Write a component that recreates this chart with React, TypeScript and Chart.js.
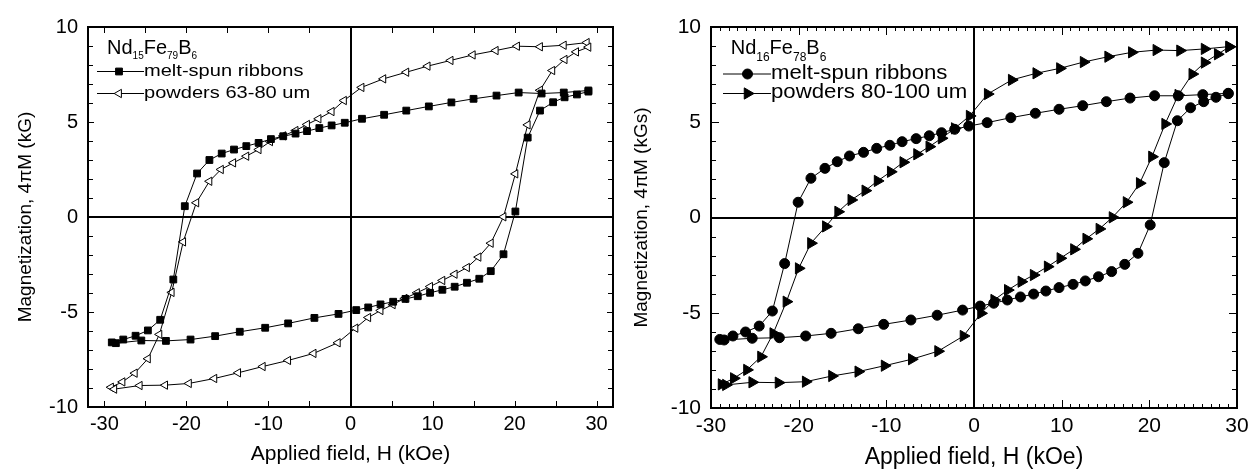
import React, { useEffect, useRef } from 'react';
import { Chart, registerables } from 'chart.js';

Chart.register(...registerables);

const FONT = '"Liberation Sans", Arial, Helvetica, sans-serif';

// ---------- Left panel: Nd15Fe79B6 ----------
const RIB15_H = [29.0, 26.0, 23.3, 20.5, 17.8, 15.0, 12.3, 9.55, 6.8, 4.1, 1.4, -0.7, -2.3, -3.8, -5.3, -6.7, -8.2, -9.7, -11.2, -12.7, -14.2, -15.7, -17.2, -18.7, -20.2, -21.6, -23.2, -24.7, -26.2, -27.7, -29.1,
  -28.6, -25.5, -22.5, -19.5, -16.5, -13.5, -10.4, -7.6, -4.4, -1.46, 0.7, 2.16, 3.66, 5.2, 6.7, 8.2, 9.7, 11.2, 12.7, 14.2, 15.7, 17.1, 18.65, 20.1, 21.6, 23.1, 24.7, 26.1, 27.6, 29.0];
const RIB15_M = [6.66, 6.55, 6.5, 6.55, 6.39, 6.22, 6.03, 5.82, 5.6, 5.38, 5.17, 4.96, 4.82, 4.68, 4.52, 4.39, 4.25, 4.1, 3.9, 3.73, 3.55, 3.34, 3.0, 2.29, 0.57, -3.29, -5.41, -5.97, -6.25, -6.45, -6.6,
  -6.64, -6.5, -6.52, -6.45, -6.27, -6.04, -5.83, -5.6, -5.31, -5.1, -4.9, -4.76, -4.6, -4.46, -4.31, -4.17, -3.99, -3.83, -3.67, -3.46, -3.25, -2.85, -1.96, 0.29, 4.18, 5.6, 6.04, 6.3, 6.45, 6.6];

const POW15_H = [28.8, 26.0, 23.1, 20.3, 17.7, 14.9, 12.2, 9.4, 6.8, 4.0, 1.34, -0.8, -2.3, -3.9, -5.3, -6.7, -8.2, -9.8, -11.2, -12.7, -14.3, -15.8, -17.2, -18.8, -20.4, -21.8, -23.3, -24.7, -26.3, -27.8, -29.2,
  -28.8, -25.7, -22.6, -19.7, -16.6, -13.7, -10.7, -7.6, -4.5, -1.55, 0.6, 2.16, 3.66, 5.15, 6.6, 8.1, 9.7, 11.2, 12.7, 14.2, 15.6, 17.1, 18.65, 20.1, 21.6, 23.1, 24.6, 26.1, 27.5, 29.0];
const POW15_M = [9.18, 9.04, 8.96, 8.99, 8.76, 8.53, 8.24, 7.94, 7.62, 7.27, 6.82, 6.13, 5.55, 5.17, 4.87, 4.55, 4.27, 3.97, 3.55, 3.2, 2.85, 2.5, 1.88, 0.75, -1.31, -3.97, -6.18, -7.46, -8.22, -8.68, -8.96,
  -9.06, -8.87, -8.85, -8.76, -8.5, -8.2, -7.87, -7.55, -7.18, -6.62, -5.85, -5.29, -4.92, -4.61, -4.29, -3.99, -3.66, -3.34, -3.01, -2.66, -2.11, -1.38, 0.01, 2.27, 4.85, 6.67, 7.71, 8.29, 8.69, 8.94];

// ---------- Right panel: Nd16Fe78B6 ----------
const RIB16_H = [29.0, 26.1, 23.3, 20.6, 17.8, 15.1, 12.4, 9.7, 7.0, 4.2, 1.5, -0.6, -2.2, -3.7, -5.1, -6.6, -8.2, -9.6, -11.1, -12.6, -14.2, -15.6, -17.0, -18.6, -20.06, -21.6, -23.0, -24.5, -26.06, -27.5, -29.0,
  -28.5, -25.3, -22.2, -19.2, -16.3, -13.2, -10.3, -7.2, -4.2, -1.3, 0.7, 2.25, 3.8, 5.3, 6.8, 8.2, 9.7, 11.3, 12.7, 14.2, 15.7, 17.2, 18.7, 20.1, 21.7, 23.2, 24.7, 26.2, 27.6, 29.0];
const RIB16_M = [6.52, 6.45, 6.39, 6.39, 6.27, 6.08, 5.87, 5.68, 5.47, 5.24, 4.98, 4.8, 4.63, 4.45, 4.29, 4.14, 3.98, 3.79, 3.63, 3.42, 3.23, 2.93, 2.58, 2.06, 0.8, -2.42, -4.91, -5.7, -6.01, -6.22, -6.4,
  -6.43, -6.34, -6.31, -6.22, -6.08, -5.84, -5.61, -5.38, -5.13, -4.86, -4.65, -4.5, -4.33, -4.17, -4.02, -3.86, -3.68, -3.51, -3.33, -3.11, -2.84, -2.46, -1.88, -0.39, 2.88, 5.08, 5.76, 6.08, 6.31, 6.5];

const POW16_H = [29.1, 26.3, 23.5, 20.8, 18.0, 15.3, 12.5, 9.8, 7.1, 4.3, 1.56, -0.5, -2.2, -3.7, -5.1, -6.5, -8.07, -9.5, -11.0, -12.4, -14.0, -15.5, -16.9, -18.6, -20.0, -21.4, -22.9, -24.3, -25.9, -27.4, -28.8,
  -28.3, -25.3, -22.3, -19.2, -16.2, -13.2, -10.2, -7.1, -4.1, -1.2, 0.8, 2.3, 3.85, 5.4, 6.8, 8.4, 9.85, 11.4, 12.8, 14.3, 15.8, 17.4, 18.9, 20.3, 21.8, 23.3, 24.9, 26.3, 27.8, 29.1];
const POW16_M = [8.97, 8.85, 8.76, 8.79, 8.67, 8.44, 8.16, 7.83, 7.57, 7.22, 6.48, 5.33, 4.68, 4.16, 3.72, 3.32, 2.9, 2.4, 1.92, 1.41, 0.92, 0.3, -0.47, -1.35, -2.67, -4.42, -6.08, -7.31, -8.0, -8.44, -8.76,
  -8.79, -8.65, -8.67, -8.62, -8.32, -8.09, -7.78, -7.44, -7.02, -6.22, -5.03, -4.33, -3.81, -3.37, -3.02, -2.58, -2.14, -1.67, -1.12, -0.6, 0.01, 0.8, 1.8, 3.19, 4.91, 6.43, 7.53, 8.13, 8.57, 8.95];

const X_TICKS = [-30, -20, -10, 0, 10, 20, 30];
const Y_TICKS = [-10, -5, 0, 5, 10];

const zip = (h: number[], m: number[]) => h.map((x, i) => ({ x, y: m[i] }));

type Marker = { style: string; radius: number; rotation: number; fill: string };

function drawMarker(ctx: CanvasRenderingContext2D, mk: Marker, x: number, y: number) {
  ctx.save();
  ctx.fillStyle = mk.fill;
  ctx.strokeStyle = '#000';
  ctx.lineWidth = 1;
  ctx.beginPath();
  const r = mk.radius;
  if (mk.style === 'rect') {
    const s = r * Math.SQRT1_2;
    ctx.rect(x - s, y - s, 2 * s, 2 * s);
  } else if (mk.style === 'circle') {
    ctx.arc(x, y, r, 0, Math.PI * 2);
  } else {
    let rad = (mk.rotation * Math.PI) / 180;
    ctx.moveTo(x + Math.sin(rad) * r, y - Math.cos(rad) * r);
    rad += (2 * Math.PI) / 3;
    ctx.lineTo(x + Math.sin(rad) * r, y - Math.cos(rad) * r);
    rad += (2 * Math.PI) / 3;
    ctx.lineTo(x + Math.sin(rad) * r, y - Math.cos(rad) * r);
    ctx.closePath();
  }
  ctx.fill();
  ctx.stroke();
  ctx.restore();
}

const framePlugin = {
  id: 'frame',
  beforeDatasetsDraw(chart: any, _args: any, o: any) {
    const { ctx, chartArea: a, scales } = chart;
    const xs = scales.x;
    const ys = scales.y;
    ctx.save();
    ctx.strokeStyle = '#000';
    // zero lines
    ctx.lineWidth = 2;
    const x0 = Math.round(xs.getPixelForValue(0));
    const y0 = Math.round(ys.getPixelForValue(0));
    ctx.beginPath();
    ctx.moveTo(x0, a.top);
    ctx.lineTo(x0, a.bottom);
    ctx.moveTo(a.left, y0);
    ctx.lineTo(a.right, y0);
    ctx.stroke();
    // inward ticks on all four sides
    ctx.lineWidth = 1;
    ctx.beginPath();
    for (let i = Math.ceil(-30 / o.xStep); i * o.xStep <= 30 + 1e-9; i++) {
      const v = i * o.xStep;
      const len = Math.abs(v % 10) < 1e-9 ? o.xMajor : o.xMinor;
      const px = Math.round(xs.getPixelForValue(v)) + 0.5;
      ctx.moveTo(px, a.bottom);
      ctx.lineTo(px, a.bottom - len);
      ctx.moveTo(px, a.top);
      ctx.lineTo(px, a.top + len);
    }
    for (let i = Math.ceil(-10 / o.yStep); i * o.yStep <= 10 + 1e-9; i++) {
      const v = i * o.yStep;
      const len = Math.abs(v % 5) < 1e-9 ? o.yMajor : o.yMinor;
      const py = Math.round(ys.getPixelForValue(v)) + 0.5;
      ctx.moveTo(a.left, py);
      ctx.lineTo(a.left + len, py);
      ctx.moveTo(a.right, py);
      ctx.lineTo(a.right - len, py);
    }
    ctx.stroke();
    // frame
    ctx.lineWidth = 2;
    ctx.strokeRect(a.left, a.top, a.right - a.left, a.bottom - a.top);
    ctx.restore();
  },
  afterDraw(chart: any, _args: any, o: any) {
    const { ctx } = chart;
    const L = o.legend;
    ctx.save();
    ctx.fillStyle = '#000';
    ctx.textBaseline = 'alphabetic';
    ctx.textAlign = 'left';
    // title with subscripts
    let x = L.titleX;
    for (const part of L.title) {
      const sub = part.sub;
      ctx.font = `${sub ? L.subSize : L.titleSize}px ${FONT}`;
      ctx.fillText(part.t, x, sub ? L.subBase : L.titleBase);
      x += ctx.measureText(part.t).width;
    }
    // rows
    chart.data.datasets.forEach((ds: any, i: number) => {
      const row = L.rows[i];
      ctx.strokeStyle = '#000';
      ctx.lineWidth = 1;
      ctx.beginPath();
      ctx.moveTo(L.lineX1, row.y + 0.5);
      ctx.lineTo(L.lineX2, row.y + 0.5);
      ctx.stroke();
      drawMarker(ctx, {
        style: ds.pointStyle, radius: ds.pointRadius, rotation: ds.pointRotation || 0, fill: ds.pointBackgroundColor,
      }, L.markX, row.y + 0.5);
      ctx.save();
      ctx.fillStyle = '#000';
      ctx.font = `${L.textSize}px ${FONT}`;
      ctx.translate(L.textX, row.base);
      ctx.scale(L.stretch, 1);
      ctx.fillText(ds.label, 0, 0);
      ctx.restore();
    });
    ctx.restore();
  },
};

type PanelCfg = {
  left: number; w: number; h: number;
  area: { left: number; right: number; top: number; bottom: number };
  xMin: number; xMax: number;
  tickSize: number; xTickPad: number; yTickPad: number;
  xTitleSize: number; xTitlePad: number;
  yTitle: string; yTitleSize: number; yTitlePad: number;
  ticks: any; legend: any; datasets: any[];
};

function buildConfig(c: PanelCfg): any {
  return {
    type: 'scatter',
    data: { datasets: c.datasets },
    plugins: [framePlugin],
    options: {
      responsive: false,
      animation: false,
      events: [],
      devicePixelRatio: 1,
      layout: { padding: { left: 0, top: c.area.top, right: c.w - c.area.right, bottom: 0 } },
      plugins: {
        legend: { display: false },
        tooltip: { enabled: false },
        frame: { ...c.ticks, legend: c.legend },
      },
      scales: {
        x: {
          type: 'linear', min: c.xMin, max: c.xMax,
          grid: { display: false, drawTicks: false },
          border: { display: false },
          afterBuildTicks: (s: any) => { s.ticks = X_TICKS.map((v) => ({ value: v })); },
          afterFit: (s: any) => { s.height = c.h - c.area.bottom; s.paddingLeft = 0; s.paddingRight = 0; },
          ticks: {
            color: '#000', padding: c.xTickPad, maxRotation: 0, autoSkip: false,
            font: { family: FONT, size: c.tickSize },
            callback: (v: any) => String(v),
          },
          title: {
            display: true, text: 'Applied field, H (kOe)', color: '#000',
            font: { family: FONT, size: c.xTitleSize, lineHeight: 1 },
            padding: { top: 0, bottom: c.xTitlePad },
          },
        },
        y: {
          type: 'linear', min: -10, max: 10,
          grid: { display: false, drawTicks: false },
          border: { display: false },
          afterBuildTicks: (s: any) => { s.ticks = Y_TICKS.map((v) => ({ value: v })); },
          afterFit: (s: any) => { s.width = c.area.left; s.paddingTop = 0; s.paddingBottom = 0; },
          ticks: {
            color: '#000', padding: c.yTickPad, autoSkip: false,
            font: { family: FONT, size: c.tickSize },
            callback: (v: any) => String(v),
          },
          title: {
            display: true, text: c.yTitle, color: '#000',
            font: { family: FONT, size: c.yTitleSize, lineHeight: 1 },
            padding: { top: c.yTitlePad, bottom: 0 },
          },
        },
      },
    },
  };
}

const lineDs = (label: string, data: any[], pointStyle: string, radius: number, rotation: number, fill: string) => ({
  label, data, showLine: true, borderColor: '#000', borderWidth: 1, tension: 0,
  pointStyle, pointRadius: radius, pointRotation: rotation,
  pointBackgroundColor: fill, pointBorderColor: '#000', pointBorderWidth: 1,
  clip: false,
});

const LEFT: PanelCfg = {
  left: 0, w: 628, h: 471,
  area: { left: 88, right: 613, top: 27, bottom: 407 },
  xMin: -32, xMax: 32,
  tickSize: 20, xTickPad: 5, yTickPad: 10,
  xTitleSize: 21, xTitlePad: 6,
  yTitle: 'Magnetization, 4\u03C0M (kG)', yTitleSize: 19, yTitlePad: 16.5,
  ticks: { xStep: 5, xMajor: 6, xMinor: 6, yStep: 1, yMajor: 6, yMinor: 5 },
  legend: {
    titleX: 107, titleBase: 54, titleSize: 20, subSize: 10, subBase: 58.5,
    title: [{ t: 'Nd' }, { t: '15', sub: true }, { t: 'Fe' }, { t: '79', sub: true }, { t: 'B' }, { t: '6', sub: true }],
    rows: [{ y: 71, base: 75.5 }, { y: 93, base: 98 }],
    lineX1: 97, lineX2: 144, markX: 119, textX: 144, textSize: 17, stretch: 1.18,
  },
  datasets: [
    lineDs('melt-spun ribbons', zip(RIB15_H, RIB15_M), 'rect', 4.8, 0, '#000'),
    lineDs('powders 63-80 um', zip(POW15_H, POW15_M), 'triangle', 4.8, -90, '#fff'),
  ],
};

const RIGHT: PanelCfg = {
  left: 628, w: 629, h: 471,
  area: { left: 83, right: 609, top: 27, bottom: 408 },
  xMin: -30, xMax: 30,
  tickSize: 21, xTickPad: 6, yTickPad: 10,
  xTitleSize: 23, xTitlePad: 2,
  yTitle: 'Magnetization, 4\u03C0M (kGs)', yTitleSize: 19, yTitlePad: 4.5,
  ticks: { xStep: 1, xMajor: 8, xMinor: 4, yStep: 1, yMajor: 8, yMinor: 5 },
  legend: {
    titleX: 102.7, titleBase: 54, titleSize: 20, subSize: 12, subBase: 61,
    title: [{ t: 'Nd' }, { t: '16', sub: true }, { t: 'Fe' }, { t: '78', sub: true }, { t: 'B' }, { t: '6', sub: true }],
    rows: [{ y: 73.5, base: 79 }, { y: 93, base: 98 }],
    lineX1: 95, lineX2: 143, markX: 119.5, textX: 143, textSize: 20, stretch: 1.11,
  },
  datasets: [
    lineDs('melt-spun ribbons', zip(RIB16_H, RIB16_M), 'circle', 5, 0, '#000'),
    lineDs('powders 80-100 um', zip(POW16_H, POW16_M), 'triangle', 6.5, 90, '#000'),
  ],
};

function Panel({ cfg }: { cfg: PanelCfg }) {
  const ref = useRef<HTMLCanvasElement>(null);
  useEffect(() => {
    if (!ref.current) return;
    const chart = new Chart(ref.current, buildConfig(cfg));
    return () => chart.destroy();
  }, [cfg]);
  return (
    <canvas
      ref={ref}
      width={cfg.w}
      height={cfg.h}
      style={{ position: 'absolute', left: cfg.left, top: 0, width: cfg.w, height: cfg.h }}
    />
  );
}

export default function App() {
  return (
    <div style={{ position: 'fixed', left: 0, top: 0, width: 1257, height: 471, background: '#fff', overflow: 'hidden' }}>
      <Panel cfg={LEFT} />
      <Panel cfg={RIGHT} />
    </div>
  );
}
